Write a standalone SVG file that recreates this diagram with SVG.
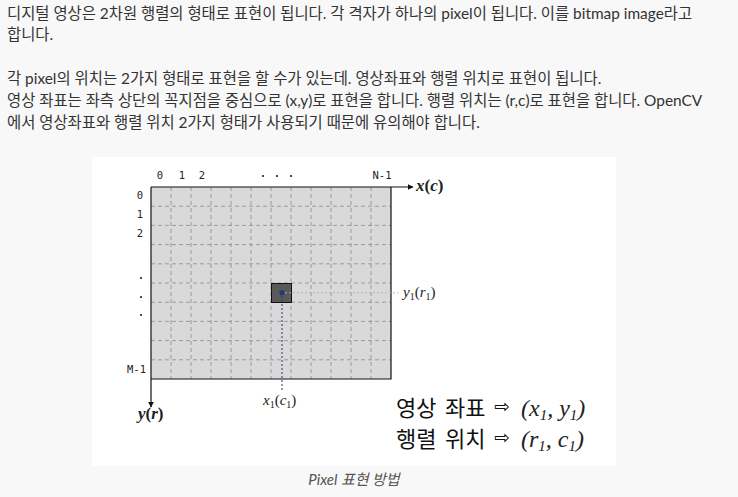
<svg xmlns="http://www.w3.org/2000/svg" width="738" height="497" viewBox="0 0 738 497">
<style>
.body{font-family:Lato,"Noto Sans CJK KR",sans-serif;font-size:15.4px;fill:#333}
.mono{font-family:"DejaVu Sans Mono","Liberation Mono",monospace;font-size:10.5px;fill:#222}
.math{font-family:"Liberation Serif","DejaVu Serif",serif;font-style:italic;fill:#222}
.kr{font-family:"Noto Sans CJK KR",sans-serif;font-size:22px;fill:#111}
.grid{stroke:#8c8c8c;stroke-width:0.8;stroke-dasharray:4 3;fill:none}
.axis{stroke:#111;stroke-width:1.2;fill:none}
.up{font-style:normal}
</style>
<defs>
<marker id="arr" viewBox="0 0 10 10" refX="9" refY="5" markerWidth="6" markerHeight="6" orient="auto" markerUnits="userSpaceOnUse">
<path d="M0,0 L10,5 L0,10 z" fill="#111"/>
</marker>
</defs>
<rect width="738" height="497" fill="#f8f8f8"/>
<g id="paragraph">
<text class="body" x="7" y="19">디지털 영상은 2차원 행렬의 형태로 표현이 됩니다. 각 격자가 하나의 pixel이 됩니다. 이를 bitmap image라고</text>
<text class="body" x="7" y="40">합니다.</text>
<text class="body" x="7" y="84">각 pixel의 위치는 2가지 형태로 표현을 할 수가 있는데. 영상좌표와 행렬 위치로 표현이 됩니다.</text>
<text class="body" x="7" y="106">영상 좌표는 좌측 상단의 꼭지점을 중심으로 (x,y)로 표현을 합니다. 행렬 위치는 (r,c)로 표현을 합니다. OpenCV</text>
<text class="body" x="7" y="128">에서 영상좌표와 행렬 위치 2가지 형태가 사용되기 때문에 유의해야 합니다.</text>
</g>
<rect x="92" y="157" width="524" height="309" fill="#ffffff"/>
<g id="image-grid">
<rect x="151" y="187" width="240" height="192" fill="#d9d9d9"/>
<path class="grid" d="M171,187V379M191,187V379M211,187V379M231,187V379M251,187V379M271,187V379M291,187V379M311,187V379M331,187V379M351,187V379M371,187V379"/>
<path class="grid" d="M151,206.2H391M151,225.4H391M151,244.6H391M151,263.8H391M151,283H391M151,302.2H391M151,321.4H391M151,340.6H391M151,359.8H391"/>
<path d="M391,187V379H151" stroke="#111" stroke-width="1.2" fill="none"/>
</g>
<g id="pixel">
<rect x="271.5" y="283.5" width="20" height="19" fill="#595959" stroke="#111" stroke-width="1"/>
<circle cx="282" cy="292.8" r="2.6" fill="#1d3f73"/>
</g>
<g id="connectors">
<path class="axis" d="M151,187H413" marker-end="url(#arr)"/>
<path class="axis" d="M151,187V407" marker-end="url(#arr)"/>
<path d="M285,292.8H398" stroke="#a9b6c9" stroke-width="1" stroke-dasharray="2 2" fill="none"/>
<path d="M282,296V391" stroke="#1d3f73" stroke-width="1" stroke-dasharray="2 2" fill="none"/>
</g>
<g id="col-labels">
<text class="mono" x="160" y="179" text-anchor="middle">0</text>
<text class="mono" x="182" y="179" text-anchor="middle">1</text>
<text class="mono" x="202" y="179" text-anchor="middle">2</text>
<circle cx="263" cy="176" r="1.1" fill="#222"/>
<circle cx="277" cy="176" r="1.1" fill="#222"/>
<circle cx="291" cy="176" r="1.1" fill="#222"/>
<text class="mono" x="382" y="179" text-anchor="middle">N-1</text>
</g>
<g id="row-labels">
<text class="mono" x="140" y="199" text-anchor="middle">0</text>
<text class="mono" x="140" y="218" text-anchor="middle">1</text>
<text class="mono" x="140" y="237" text-anchor="middle">2</text>
<circle cx="141" cy="278" r="1.1" fill="#222"/>
<circle cx="141" cy="297" r="1.1" fill="#222"/>
<circle cx="141" cy="315" r="1.1" fill="#222"/>
<text class="mono" x="146" y="373" text-anchor="end">M-1</text>
</g>
<g id="axis-labels">
<text class="math" x="416" y="191" font-size="17" font-weight="bold">x<tspan class="up">(</tspan>c<tspan class="up">)</tspan></text>
<text class="math" x="138" y="419" font-size="17" font-weight="bold">y<tspan class="up">(</tspan>r<tspan class="up">)</tspan></text>
<text class="math" x="403" y="297" font-size="15">y<tspan font-size="10" class="up" dy="3">1</tspan><tspan dy="-3" class="up">(</tspan>r<tspan font-size="10" class="up" dy="3">1</tspan><tspan dy="-3" class="up">)</tspan></text>
<text class="math" x="263" y="405" font-size="15">x<tspan font-size="10" class="up" dy="3">1</tspan><tspan dy="-3" class="up">(</tspan>c<tspan font-size="10" class="up" dy="3">1</tspan><tspan dy="-3" class="up">)</tspan></text>
</g>
<g id="legend">
<text class="kr" x="396" y="416">영상</text>
<text class="kr" x="445" y="416">좌표</text>
<text class="kr" x="396" y="447">행렬</text>
<text class="kr" x="445" y="447">위치</text>
<text x="494" y="413" font-family="DejaVu Sans,sans-serif" font-size="19" fill="#111">⇨</text>
<text x="494" y="444" font-family="DejaVu Sans,sans-serif" font-size="19" fill="#111">⇨</text>
<text class="math" x="521" y="416" font-size="24" font-style="normal">(<tspan font-style="italic">x</tspan><tspan font-style="italic" font-size="15" dy="4">1</tspan><tspan dy="-4">, </tspan><tspan font-style="italic">y</tspan><tspan font-style="italic" font-size="15" dy="4">1</tspan><tspan dy="-4">)</tspan></text>
<text class="math" x="521" y="447" font-size="24" font-style="normal">(<tspan font-style="italic">r</tspan><tspan font-style="italic" font-size="15" dy="4">1</tspan><tspan dy="-4">, </tspan><tspan font-style="italic">c</tspan><tspan font-style="italic" font-size="15" dy="4">1</tspan><tspan dy="-4">)</tspan></text>
</g>
<text x="354" y="485" text-anchor="middle" font-family="Lato,'Noto Sans CJK KR',sans-serif" font-style="italic" font-size="15" fill="#555">Pixel 표현 방법</text>
</svg>
